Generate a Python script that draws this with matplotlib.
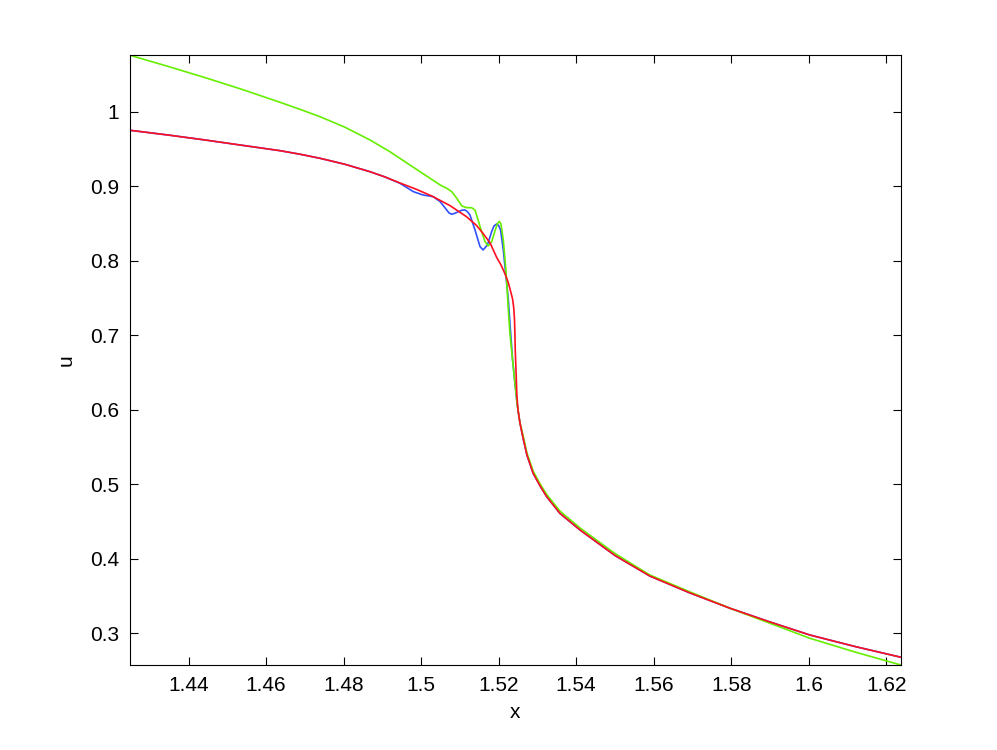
import matplotlib
matplotlib.use("Agg")
import matplotlib.pyplot as plt

plt.rcParams['font.family'] = ['Liberation Sans', 'DejaVu Sans']

# red (smooth solution)
x_red = [1.4249, 1.4352, 1.4442, 1.4532, 1.4636, 1.4687, 1.4739, 1.4803, 1.4868,
         1.4907, 1.4945, 1.4989, 1.5030, 1.5074, 1.5117, 1.5143, 1.5160, 1.5178,
         1.5195, 1.5206, 1.5216, 1.5224, 1.5230, 1.5236, 1.5239, 1.5241, 1.5242,
         1.5243, 1.5245, 1.5247, 1.5250, 1.5255, 1.5263, 1.5273, 1.5289, 1.5307,
         1.5324, 1.5358, 1.5410, 1.5500, 1.5590, 1.5694, 1.5797, 1.5900, 1.6003,
         1.6119, 1.6238]
u_red = [0.9754, 0.9687, 0.9624, 0.9557, 0.9480, 0.9433, 0.9378, 0.9298, 0.9198,
         0.9127, 0.9047, 0.8959, 0.8865, 0.8744, 0.8594, 0.8476, 0.8368, 0.8241,
         0.8046, 0.7946, 0.7831, 0.7724, 0.7610, 0.7489, 0.7368, 0.7207, 0.7006,
         0.6777, 0.6509, 0.6200, 0.5998, 0.5824, 0.5623, 0.5394, 0.5148, 0.4978,
         0.4834, 0.4611, 0.4387, 0.4045, 0.3769, 0.3541, 0.3336, 0.3152, 0.2977,
         0.2823, 0.2678]

# green
x_green = [1.4249, 1.4352, 1.4442, 1.4532, 1.4636, 1.4687, 1.4739, 1.4803, 1.4868,
           1.4919, 1.4971, 1.5010, 1.5049, 1.5066, 1.5079, 1.5092, 1.5105, 1.5117,
           1.5130, 1.5139, 1.5147, 1.5156, 1.5165, 1.5173, 1.5182, 1.5190, 1.5197,
           1.5202, 1.5206, 1.5212, 1.5218, 1.5221, 1.5225, 1.5229, 1.5236, 1.5242,
           1.5248, 1.5255, 1.5264, 1.5273, 1.5289, 1.5307, 1.5324, 1.5358, 1.5410,
           1.5500, 1.5590, 1.5694, 1.5797, 1.5900, 1.6003, 1.6119, 1.6238]
u_green = [1.0761, 1.0604, 1.0462, 1.0313, 1.0130, 1.0036, 0.9937, 0.9796, 0.9624,
           0.9468, 0.9288, 0.9154, 0.9020, 0.8975, 0.8930, 0.8841, 0.8738, 0.8715,
           0.8715, 0.8684, 0.8550, 0.8393, 0.8258, 0.8201, 0.8258, 0.8393, 0.8503,
           0.8530, 0.8496, 0.8281, 0.7923, 0.7704, 0.7341, 0.7032, 0.6670, 0.6361,
           0.6066, 0.5824, 0.5636, 0.5421, 0.5179, 0.5005, 0.4864, 0.4642, 0.4414,
           0.4072, 0.3783, 0.3555, 0.3336, 0.3135, 0.2933, 0.2749, 0.2574]

# blue (oscillatory)
x_blue = [1.4249, 1.4352, 1.4442, 1.4532, 1.4636, 1.4687, 1.4739, 1.4803, 1.4868,
          1.4907, 1.4945, 1.4980, 1.5005, 1.5031, 1.5049, 1.5066, 1.5072, 1.5079,
          1.5087, 1.5096, 1.5105, 1.5113, 1.5119, 1.5126, 1.5139, 1.5152, 1.5160,
          1.5171, 1.5182, 1.5188, 1.5195, 1.5200, 1.5205, 1.5212, 1.5219, 1.5225,
          1.5231, 1.5236, 1.5242, 1.5248, 1.5255, 1.5263, 1.5273, 1.5289, 1.5307,
          1.5324, 1.5358, 1.5410, 1.5500, 1.5590, 1.5694, 1.5797, 1.5900, 1.6003,
          1.6119, 1.6238]
u_blue = [0.9754, 0.9687, 0.9624, 0.9557, 0.9480, 0.9433, 0.9378, 0.9298, 0.9198,
          0.9127, 0.9043, 0.8930, 0.8885, 0.8863, 0.8796, 0.8684, 0.8644, 0.8626,
          0.8640, 0.8661, 0.8681, 0.8684, 0.8664, 0.8617, 0.8416, 0.8191, 0.8147,
          0.8214, 0.8393, 0.8469, 0.8496, 0.8476, 0.8416, 0.8147, 0.7788, 0.7476,
          0.7028, 0.6670, 0.6361, 0.6066, 0.5824, 0.5623, 0.5394, 0.5148, 0.4978,
          0.4834, 0.4611, 0.4387, 0.4045, 0.3769, 0.3541, 0.3336, 0.3152, 0.2977,
          0.2823, 0.2678]

xticks = [1.44, 1.46, 1.48, 1.5, 1.52, 1.54, 1.56, 1.58, 1.6, 1.62]
xticklabels = ['1.44', '1.46', '1.48', '1.5', '1.52', '1.54', '1.56', '1.58', '1.6', '1.62']
yticks = [0.3, 0.4, 0.5, 0.6, 0.7, 0.8, 0.9, 1.0]
yticklabels = ['0.3', '0.4', '0.5', '0.6', '0.7', '0.8', '0.9', '1']

fig = plt.figure(figsize=(9.97, 7.5), dpi=100)
ax = fig.add_axes([0.1304, 0.1133, 0.7733, 0.8130])

ax.plot(x_blue, u_blue, color='#3050ff', lw=1.2, solid_joinstyle='round')
ax.plot(x_green, u_green, color='#66ee00', lw=1.2, solid_joinstyle='round')
ax.plot(x_red, u_red, color='#ff1020', lw=1.2, solid_joinstyle='round')

ax.set_xlim(min(x_green), max(x_green))
ax.set_ylim(min(u_green), max(u_green))
ax.set_xticks(xticks)
ax.set_xticklabels(xticklabels)
ax.set_yticks(yticks)
ax.set_yticklabels(yticklabels)
ax.tick_params(direction='in', length=6, width=0.8, top=True, right=True,
               labelsize=15, pad=8)
for s in ax.spines.values():
    s.set_linewidth(0.8)
ax.set_xlabel('x', fontsize=15, labelpad=6)
ax.set_ylabel('u', fontsize=15, labelpad=10)

fig.savefig('out.png', dpi=100)
